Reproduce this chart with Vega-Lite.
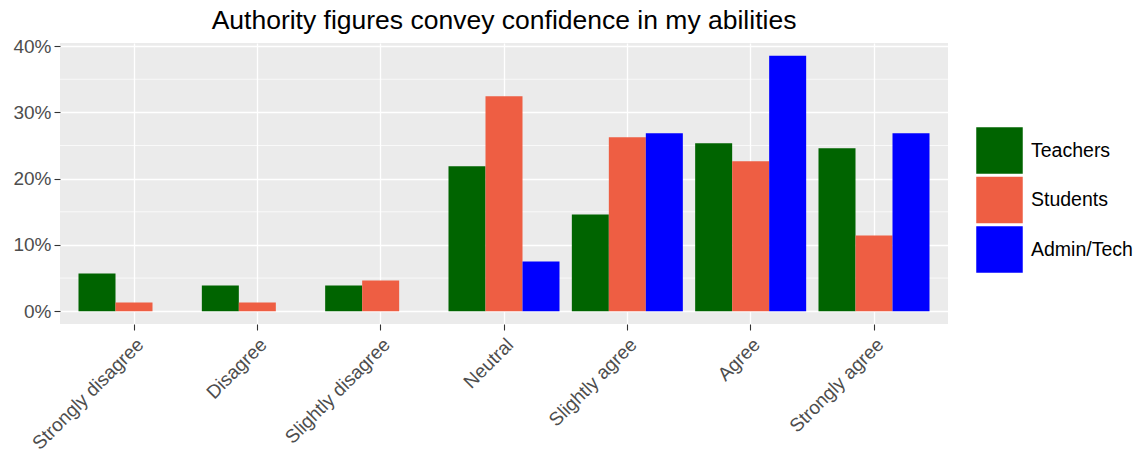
{
  "$schema": "https://vega.github.io/schema/vega-lite/v6.json",
  "width": 888,
  "height": 281,
  "autosize": "none",
  "padding": {"left": 60, "top": 43, "right": 197, "bottom": 129},
  "background": "white",
  "title": {"text": "Authority figures convey confidence in my abilities", "anchor": "middle", "frame": "group", "font": "Liberation Sans", "fontSize": 26.5, "fontWeight": "normal", "color": "#000000", "offset": 3},
  "config": {
    "view": {"fill": "#EBEBEB", "stroke": null},
    "font": "Liberation Sans",
    "axis": {"domain": false, "labelFont": "Liberation Sans", "labelColor": "#4D4D4D", "labelFontSize": 19, "tickColor": "#333333", "tickSize": 6, "tickWidth": 1.1, "gridColor": "#FFFFFF", "gridWidth": 1.3, "gridOpacity": 1, "title": null}
  },
  "datasets": {
    "minor": [{"v": 0.05}, {"v": 0.15}, {"v": 0.25}, {"v": 0.35}],
    "bars": [
      {"response": "Strongly disagree", "group": "Teachers", "pct": 0.0569},
      {"response": "Strongly disagree", "group": "Students", "pct": 0.0131},
      {"response": "Disagree", "group": "Teachers", "pct": 0.0388},
      {"response": "Disagree", "group": "Students", "pct": 0.0131},
      {"response": "Slightly disagree", "group": "Teachers", "pct": 0.0388},
      {"response": "Slightly disagree", "group": "Students", "pct": 0.0463},
      {"response": "Neutral", "group": "Teachers", "pct": 0.2186},
      {"response": "Neutral", "group": "Students", "pct": 0.3244},
      {"response": "Neutral", "group": "Admin/Tech", "pct": 0.075},
      {"response": "Slightly agree", "group": "Teachers", "pct": 0.146},
      {"response": "Slightly agree", "group": "Students", "pct": 0.2625},
      {"response": "Slightly agree", "group": "Admin/Tech", "pct": 0.2685},
      {"response": "Agree", "group": "Teachers", "pct": 0.2534},
      {"response": "Agree", "group": "Students", "pct": 0.2262},
      {"response": "Agree", "group": "Admin/Tech", "pct": 0.3854},
      {"response": "Strongly agree", "group": "Teachers", "pct": 0.2458},
      {"response": "Strongly agree", "group": "Students", "pct": 0.1144},
      {"response": "Strongly agree", "group": "Admin/Tech", "pct": 0.2685}
    ]
  },
  "layer": [
    {
      "data": {"name": "minor"},
      "mark": {"type": "rule", "color": "#FFFFFF", "strokeWidth": 0.7},
      "encoding": {
        "y": {"field": "v", "type": "quantitative", "scale": {"domain": [-0.0193, 0.4047], "zero": false, "nice": false},
              "axis": {"values": [0, 0.1, 0.2, 0.3, 0.4], "format": ".0%", "grid": true, "labelPadding": 3}}
      }
    },
    {
      "data": {"name": "bars"},
      "mark": {"type": "bar"},
      "encoding": {
        "x": {"field": "response", "type": "nominal", "sort": ["Strongly disagree", "Disagree", "Slightly disagree", "Neutral", "Slightly agree", "Agree", "Strongly agree"],
              "scale": {"paddingInner": 0.1, "paddingOuter": 0.15},
              "axis": {"labelAngle": -45, "labelAlign": "right", "labelBaseline": "top", "labelPadding": 5, "grid": true, "bandPosition": 0.5, "ticks": true}},
        "xOffset": {"field": "group", "type": "nominal", "sort": ["Teachers", "Students", "Admin/Tech"], "scale": {"domain": ["Teachers", "Students", "Admin/Tech"], "paddingInner": 0, "paddingOuter": 0}},
        "y": {"field": "pct", "type": "quantitative", "scale": {"domain": [-0.0193, 0.4047], "zero": false, "nice": false},
              "axis": {"values": [0, 0.1, 0.2, 0.3, 0.4], "format": ".0%", "grid": true, "labelPadding": 3}},
        "color": {"field": "group", "type": "nominal", "sort": ["Teachers", "Students", "Admin/Tech"],
                  "scale": {"domain": ["Teachers", "Students", "Admin/Tech"], "range": ["#006400", "#EE5E43", "#0000FF"]},
                  "legend": {"title": null, "orient": "none", "legendX": 916, "legendY": 84, "symbolType": "square", "symbolSize": 2162, "symbolStrokeWidth": 0, "symbolOpacity": 1, "rowPadding": 2.5, "labelOffset": 8, "labelFont": "Liberation Sans", "labelFontSize": 19.5, "labelColor": "#000000", "padding": 0}}
      }
    }
  ]
}
